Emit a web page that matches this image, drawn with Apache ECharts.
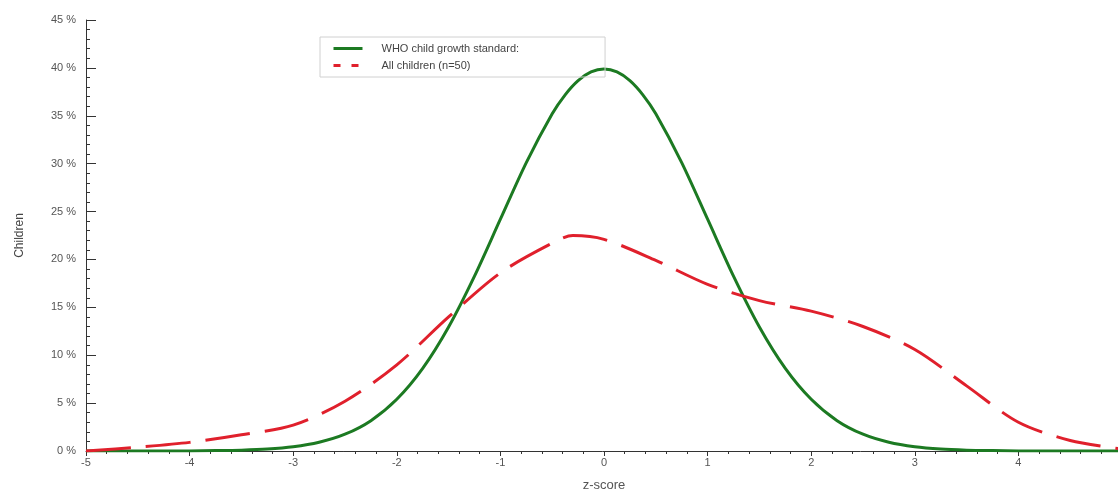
<!DOCTYPE html>
<html>
<head>
<meta charset="utf-8">
<script src="https://cdn.jsdelivr.net/npm/echarts@6/dist/echarts.min.js"></script>
<style>html,body{margin:0;padding:0;background:#fff}#c{width:1118px;height:491px}</style>
</head>
<body>
<div id="c"></div>
<script>
const seriesNames = ['WHO child growth standard:', 'All children (n=50)'];
const whoX = [-5,-4.5,-4,-3.75,-3.5,-3.25,-3,-2.75,-2.5,-2.25,-2,-1.75,-1.5,-1.25,-1,-0.75,-0.5,-0.375,-0.25,-0.125,0,0.125,0.25,0.375,0.5,0.75,1,1.25,1.5,1.75,2,2.25,2.5,2.75,3,3.25,3.5,3.75,4,4.5,5];
const whoY = [0,0,0.01,0.04,0.09,0.2,0.44,0.91,1.75,3.17,5.4,8.63,12.95,18.26,24.2,30.11,35.21,37.19,38.67,39.58,39.89,39.58,38.67,37.19,35.21,30.11,24.2,18.26,12.95,8.63,5.4,3.17,1.75,0.91,0.44,0.2,0.09,0.04,0.01,0,0];
const allX = [-5,-4.5,-4,-3.5,-3,-2.5,-2,-1.5,-1,-0.5,-0.3,0,0.5,1,1.5,2,2.5,3,3.5,4,4.5,5];
const allY = [0,0.4,0.9,1.7,2.7,5.2,9.0,14.0,18.6,21.7,22.5,22.1,19.9,17.4,15.7,14.6,13.0,10.6,6.8,3.0,1.1,0.2];

const GREEN = '#1c7a22', RED = '#e0202c';
const chart = echarts.init(document.getElementById('c'), null, {renderer: 'canvas'});
chart.setOption({
  animation: false,
  backgroundColor: '#fff',
  textStyle: {fontFamily: 'Liberation Sans, Arial, sans-serif'},
  grid: {left: 86, right: -4, top: 20, bottom: 40, outerBoundsMode: 'none', containLabel: false},
  legend: {
    left: 320, top: 37, orient: 'vertical',
    padding: [6, 86, 6, 12],
    itemGap: 6, itemWidth: 29, itemHeight: 10,
    borderColor: '#d0d0d0', borderWidth: 1,
    itemStyle: {opacity: 0},
    textStyle: {fontSize: 11, color: '#444', padding: [0, 0, 0, 14]},
    data: [
      {name: seriesNames[0], lineStyle: {color: GREEN, width: 3, type: 'solid'}},
      {name: seriesNames[1], lineStyle: {color: RED, width: 3, type: [7, 11]}}
    ]
  },
  xAxis: {
    type: 'value', min: -5, max: 5, interval: 1,
    name: 'z-score', nameLocation: 'middle', nameGap: 28,
    nameTextStyle: {fontSize: 13, color: '#555'},
    axisLine: {onZero: false, lineStyle: {color: '#333', width: 1}},
    axisTick: {show: true, length: 5, lineStyle: {color: '#333'}},
    minorTick: {show: true, splitNumber: 5, length: 3, lineStyle: {color: '#333'}},
    axisLabel: {fontSize: 11, color: '#555', margin: 6},
    splitLine: {show: false}
  },
  yAxis: {
    type: 'value', min: 0, max: 45, interval: 5,
    name: 'Children', nameLocation: 'middle', nameGap: 60, nameRotate: 90,
    nameTextStyle: {fontSize: 12, color: '#444'},
    axisLine: {show: true, onZero: false, lineStyle: {color: '#333', width: 1}},
    axisTick: {show: true, inside: true, length: 10, lineStyle: {color: '#333'}},
    minorTick: {show: true, splitNumber: 5, length: 4, lineStyle: {color: '#333'}},
    axisLabel: {fontSize: 11, color: '#555', margin: 10, formatter: '{value} %'},
    splitLine: {show: false}
  },
  series: [
    {
      name: seriesNames[0], type: 'line', smooth: 0.3, symbol: 'none',
      data: whoX.map((x, i) => [x, whoY[i]]),
      lineStyle: {color: GREEN, width: 3},
      itemStyle: {color: GREEN}
    },
    {
      name: seriesNames[1], type: 'line', smooth: 0.3, symbol: 'none',
      data: allX.map((x, i) => [x, allY[i]]),
      lineStyle: {color: RED, width: 3, type: [45, 15]},
      itemStyle: {color: RED}
    }
  ]
});
</script>
</body>
</html>
